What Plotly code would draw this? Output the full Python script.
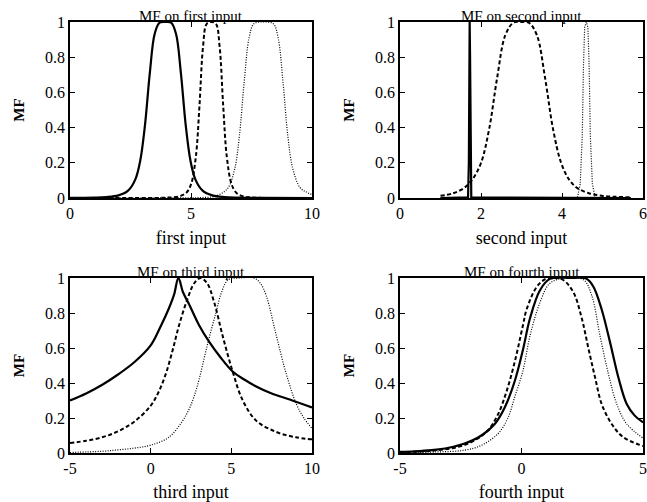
import plotly.graph_objects as go
from plotly.subplots import make_subplots

# ---- data (membership functions of the 4 inputs) ----

# first input
in1_solid_x = [0, 1, 1.5, 2, 2.4, 2.7, 2.9, 3.1, 3.3, 3.5, 3.7, 3.94, 4.18, 4.38, 4.58, 4.78, 4.98, 5.18, 5.48, 5.88, 6.38, 6.88, 8, 10]
in1_solid_y = [0.001, 0.002, 0.005, 0.015, 0.042, 0.106, 0.21, 0.416, 0.713, 0.933, 0.996, 1, 0.996, 0.933, 0.713, 0.416, 0.21, 0.106, 0.042, 0.015, 0.005, 0.002, 0.001, 0]
in1_dash_x = [0, 3, 4, 4.5, 4.8, 5.0, 5.2, 5.35, 5.5, 5.65, 5.84, 6.03, 6.18, 6.33, 6.48, 6.68, 6.88, 7.18, 7.68, 8.68, 10]
in1_dash_y = [0, 0.0002, 0.002, 0.009, 0.029, 0.077, 0.234, 0.524, 0.864, 0.99, 1, 0.99, 0.864, 0.524, 0.234, 0.077, 0.029, 0.009, 0.002, 0.0002, 0]
in1_dot_x = [0, 4, 5, 5.5, 6, 6.5, 6.8, 7.0, 7.2, 7.4, 7.6, 8.0, 8.4, 8.6, 8.8, 9.0, 9.2, 9.5, 9.75, 10]
in1_dot_y = [0, 0.0003, 0.001, 0.003, 0.01, 0.052, 0.162, 0.354, 0.662, 0.91, 0.99, 1, 0.99, 0.91, 0.662, 0.354, 0.17, 0.06, 0.035, 0.02]

# second input
in2_solid_x = [1.0, 1.68, 1.70, 1.71, 1.72, 1.73, 1.74, 1.76, 5.7]
in2_solid_y = [0, 0.003, 0.2, 0.8, 1, 0.8, 0.2, 0.003, 0]
in2_dash_x = [1.0, 1.3, 1.6, 1.8, 2.0, 2.2, 2.4, 2.6, 2.8, 2.99, 3.18, 3.38, 3.58, 3.78, 3.98, 4.18, 4.38, 4.68, 4.98, 5.3, 5.7]
in2_dash_y = [0.013, 0.026, 0.06, 0.11, 0.199, 0.39, 0.685, 0.925, 0.996, 1, 0.996, 0.925, 0.685, 0.39, 0.199, 0.103, 0.056, 0.026, 0.013, 0.007, 0.004]
in2_dot_x = [1.0, 4.38, 4.45, 4.5, 4.53, 4.56, 4.6, 4.64, 4.67, 4.7, 4.75, 4.82, 5.7]
in2_dot_y = [0, 0, 0.08, 0.35, 0.75, 0.97, 1, 0.97, 0.75, 0.35, 0.08, 0, 0]

# third input
in3_solid_x = [-5, -4, -3, -2, -1, 0, 0.6, 1.1, 1.45, 1.72, 2.0, 2.38, 3.0, 3.63, 4.3, 5.08, 5.8, 6.54, 7.5, 8.62, 10]
in3_solid_y = [0.30, 0.34, 0.39, 0.45, 0.52, 0.615, 0.72, 0.82, 0.905, 1, 0.92, 0.85, 0.73, 0.635, 0.55, 0.466, 0.42, 0.38, 0.34, 0.306, 0.26]
in3_dash_x = [-5, -4, -3, -2, -1, 0, 0.5, 0.93, 1.34, 1.76, 2.28, 2.7, 3.1, 3.5, 3.94, 4.46, 5.08, 5.71, 6.54, 7.79, 9, 10]
in3_dash_y = [0.057, 0.07, 0.09, 0.125, 0.18, 0.27, 0.35, 0.45, 0.58, 0.73, 0.88, 0.97, 1, 0.97, 0.86, 0.67, 0.466, 0.30, 0.185, 0.12, 0.09, 0.078]
in3_dot_x = [-5, -3, -2, -1, 0, 1.13, 1.95, 2.38, 2.68, 3.0, 3.52, 4.04, 4.4, 4.8, 5.5, 6.4, 6.8, 7.16, 7.79, 8.41, 9.03, 9.5, 10]
in3_dot_y = [0.003, 0.01, 0.018, 0.028, 0.045, 0.09, 0.18, 0.25, 0.32, 0.42, 0.62, 0.80, 0.92, 0.99, 1, 1, 0.97, 0.9, 0.67, 0.45, 0.28, 0.2, 0.14]

# fourth input
in4_solid_x = [-5, -4.4, -3.7, -3.0, -2.34, -1.65, -1.1, -0.69, -0.28, 0.06, 0.35, 0.76, 1.17, 2.0, 2.68, 2.96, 3.3, 3.64, 3.99, 4.33, 4.65, 5]
in4_solid_y = [0.006, 0.009, 0.016, 0.03, 0.054, 0.10, 0.166, 0.26, 0.41, 0.59, 0.77, 0.93, 0.995, 1, 0.995, 0.95, 0.82, 0.635, 0.43, 0.28, 0.215, 0.175]
in4_dash_x = [-5, -4.4, -3.44, -2.6, -1.93, -1.38, -0.97, -0.62, -0.28, 0.06, 0.21, 0.63, 1.0, 1.3, 1.7, 2.13, 2.48, 2.75, 3.03, 3.3, 3.71, 4.19, 5]
in4_dash_y = [0.005, 0.007, 0.016, 0.035, 0.072, 0.13, 0.22, 0.35, 0.52, 0.73, 0.82, 0.95, 0.995, 1, 0.99, 0.92, 0.77, 0.60, 0.43, 0.28, 0.166, 0.09, 0.04]
in4_dot_x = [-5, -3.5, -2.34, -1.65, -0.97, -0.56, -0.28, 0.06, 0.35, 0.76, 1.17, 1.8, 2.55, 2.89, 3.23, 3.58, 3.92, 4.33, 5]
in4_dot_y = [0.002, 0.006, 0.016, 0.044, 0.11, 0.2, 0.32, 0.47, 0.67, 0.86, 0.97, 1, 0.99, 0.9, 0.67, 0.45, 0.28, 0.166, 0.085]

titles = ["MF on first input", "MF on second input", "MF on third input", "MF on fourth input"]
xlabels = ["first input", "second input", "third input", "fourth input"]
x_ranges = [[0, 10], [0, 6], [-5, 10], [-5, 5]]
x_tickvals = [[0, 5, 10], [0, 2, 4, 6], [-5, 0, 5, 10], [-5, 0, 5]]
x_ticktext = [["0", "5", "10"], ["0", "2", "4", "6"], ["-5", "0", "5", "10"], ["-5", "0", "5"]]
y_tickvals = [0, 0.2, 0.4, 0.6, 0.8, 1]
y_ticktext = ["0", "0.2", "0.4", "0.6", "0.8", "1"]

curves = [
    [(in1_solid_x, in1_solid_y), (in1_dash_x, in1_dash_y), (in1_dot_x, in1_dot_y)],
    [(in2_solid_x, in2_solid_y), (in2_dash_x, in2_dash_y), (in2_dot_x, in2_dot_y)],
    [(in3_solid_x, in3_solid_y), (in3_dash_x, in3_dash_y), (in3_dot_x, in3_dot_y)],
    [(in4_solid_x, in4_solid_y), (in4_dash_x, in4_dash_y), (in4_dot_x, in4_dot_y)],
]

FONT = "Liberation Serif"
styles = [dict(width=2.2, dash="solid"), dict(width=2, dash="4px,2.5px"), dict(width=1.2, dash="1px,1.5px")]

fig = make_subplots(rows=2, cols=2)

# panel placement in window pixels (body margin is removed in the page)
W, H = 647, 502
x_doms = [[70 / W, 312 / W], [400 / W, 643 / W]]
y_doms = [[(H - 198) / H, (H - 22) / H], [(H - 453) / H, (H - 278) / H]]

for i in range(4):
    r, c = i // 2 + 1, i % 2 + 1
    for k, (xs, ys) in enumerate(curves[i]):
        # the very narrow MFs of the second input are drawn without smoothing
        shape = "linear" if (i == 1 and k != 1) else "spline"
        fig.add_trace(go.Scatter(x=xs, y=ys, mode="lines", showlegend=False,
                                 line=dict(color="black", shape=shape, **styles[k])),
                      row=r, col=c)
    fig.update_xaxes(range=x_ranges[i], tickvals=x_tickvals[i], ticktext=x_ticktext[i],
                     domain=x_doms[c - 1], title=dict(text=xlabels[i], standoff=10,
                                                      font=dict(family=FONT, size=18, color="black")),
                     row=r, col=c)
    fig.update_yaxes(range=[0, 1], tickvals=y_tickvals, ticktext=y_ticktext,
                     domain=y_doms[r - 1], title=dict(text="<b>MF</b>", standoff=17,
                                                      font=dict(family=FONT, size=15, color="black")),
                     row=r, col=c)
    fig.add_annotation(text=titles[i], xref="paper", yref="paper",
                       x=sum(x_doms[c - 1]) / 2, y=y_doms[r - 1][1],
                       xanchor="center", yanchor="bottom", yshift=-4, showarrow=False,
                       font=dict(family=FONT, size=15, color="black"))

fig.update_xaxes(showline=True, linecolor="black", linewidth=1.5, mirror="ticks",
                 ticks="inside", ticklen=5, tickcolor="black", showgrid=False, zeroline=False,
                 automargin=False, tickfont=dict(family=FONT, size=16, color="black"))
fig.update_yaxes(showline=True, linecolor="black", linewidth=1.5, mirror="ticks",
                 ticks="inside", ticklen=5, tickcolor="black", showgrid=False, zeroline=False,
                 automargin=False, tickfont=dict(family=FONT, size=16, color="black"))

fig.update_layout(width=W, height=H, margin=dict(l=0, r=0, t=0, b=0),
                  plot_bgcolor="white", paper_bgcolor="white", showlegend=False)

fig.write_html("out.html", config={"displayModeBar": False},
               post_script="document.body.style.margin='0px'; document.body.style.overflow='hidden';")
